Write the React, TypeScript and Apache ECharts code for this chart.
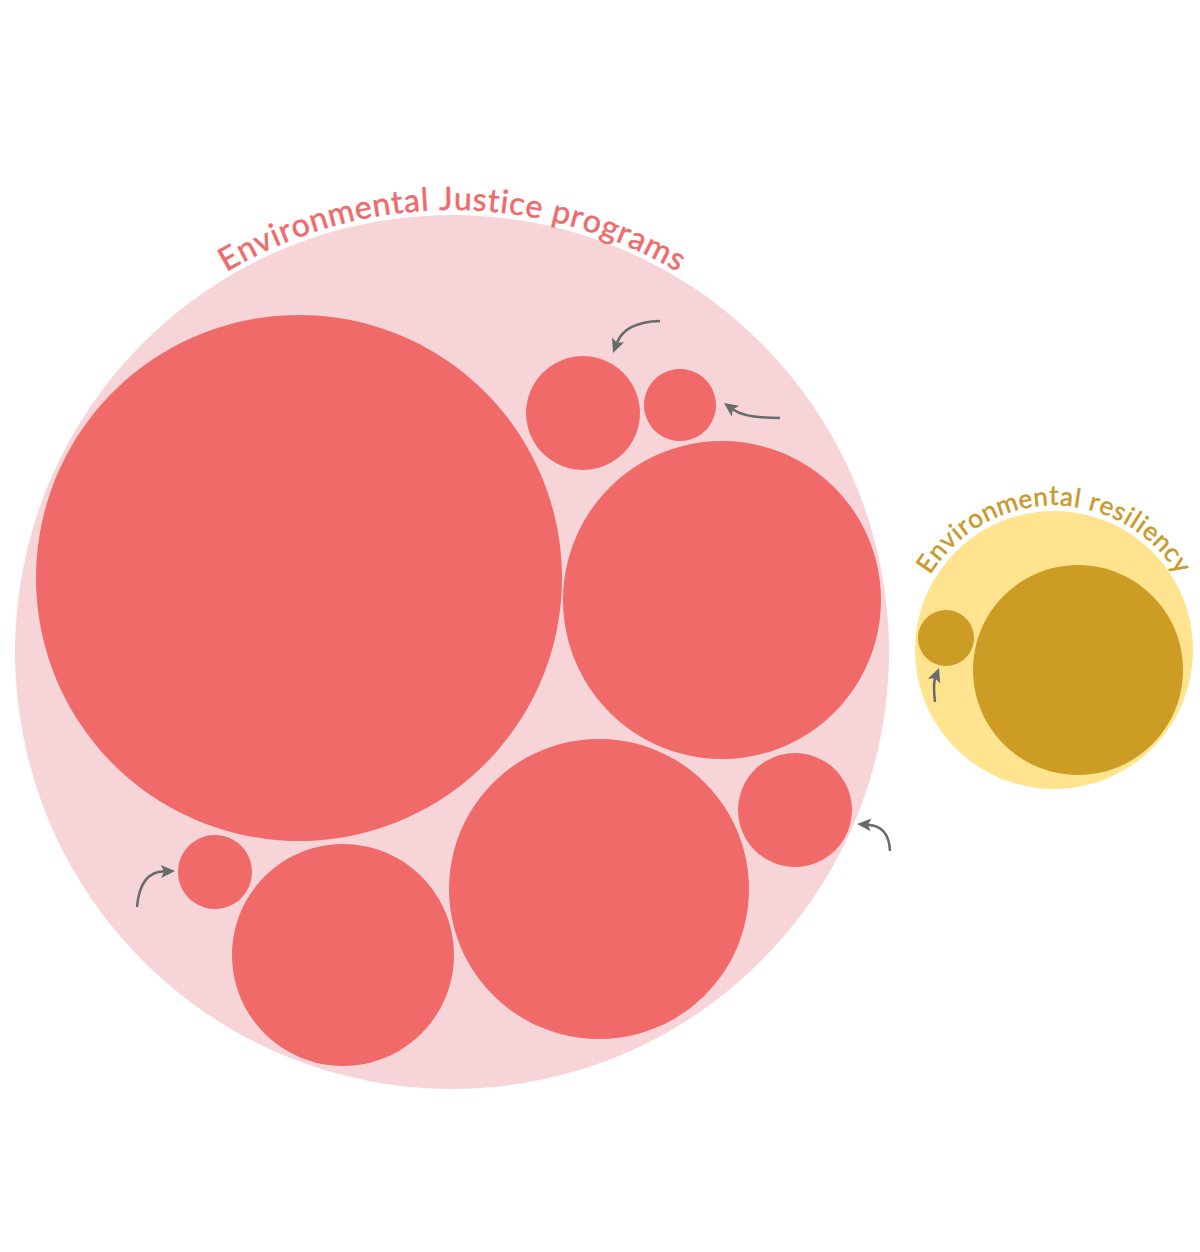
import React, { useEffect, useRef } from "react";
import * as echarts from "echarts";

// Parent groups (circle packing, chart units)
const groupNames = ["Environmental Justice programs", "Environmental resiliency"];
const groupX = [452, 1054];
const groupY = [652, 650];
const groupR = [437, 139];

// Leaf circles (chart units) and their parent group index
const leafGroup = [0, 0, 0, 0, 0, 0, 0, 0, 1, 1];
const leafX = [299, 583, 680, 722, 599, 795, 343, 215, 1078, 946];
const leafY = [578, 413, 405, 600, 889, 810, 955, 872, 670, 638];
const leafR = [263, 57, 36, 159, 150, 57, 111, 37, 105, 28];

// Annotation arrows: start, control, tip (chart units)
const arrowFromX = [660, 780, 137, 890, 935];
const arrowFromY = [321, 418, 907, 851, 702];
const arrowCtrlX = [625, 745, 140, 889, 933];
const arrowCtrlY = [322, 418, 872, 826, 684];
const arrowToX = [613, 724, 175, 857, 939];
const arrowToY = [353, 403, 871, 824, 668];

const PALETTE = {
  groupFill: ["#F6D4D8", "#FFE38E"],
  leafFill: ["#F06A6A", "#CC9C24"],
  labelColor: ["#EF6A6A", "#C99A2B"],
  labelSize: [32, 26],
  labelSpacing: [1.3, 1.6],
  labelGap: [7, 7],
  arrow: "#676B6B",
};

const FONT = "Lato, 'Open Sans', sans-serif";

let measureCtx: CanvasRenderingContext2D | null = null;
function charWidth(ch: string, fs: number): number {
  if (!measureCtx) {
    const cv = document.createElement("canvas");
    measureCtx = cv.getContext("2d");
  }
  if (!measureCtx) return fs * 0.5;
  measureCtx.font = `${fs}px ${FONT}`;
  return measureCtx.measureText(ch).width;
}

export default function App() {
  const ref = useRef<HTMLDivElement>(null);

  useEffect(() => {
    document.body.style.margin = "0";
    if (!ref.current) return;
    const chart = echarts.init(ref.current, undefined, { renderer: "svg" });

    const groupData = groupNames.map((n, i) => ({ name: n, value: [groupX[i], groupY[i], groupR[i], i] }));
    const leafData = leafX.map((x, i) => ({ value: [x, leafY[i], leafR[i], leafGroup[i]] }));
    const arrowData = arrowFromX.map((x, i) => ({
      value: [x, arrowFromY[i], arrowCtrlX[i], arrowCtrlY[i], arrowToX[i], arrowToY[i]],
    }));

    const option: any = {
      animation: false,
      grid: { left: 0, right: 0, top: 0, bottom: 0 },
      xAxis: { type: "value", min: 0, max: 1200, show: false },
      yAxis: { type: "value", min: 0, max: 1252, inverse: true, show: false },
      tooltip: { show: false },
      series: [
        {
          type: "custom",
          name: "groups",
          data: groupData,
          silent: true,
          renderItem: (params: any, api: any) => {
            const gi = api.value(3) as number;
            const c = api.coord([api.value(0), api.value(1)]);
            const r = api.size([api.value(2), 0])[0];
            const children: any[] = [
              { type: "circle", shape: { cx: c[0], cy: c[1], r }, style: { fill: PALETTE.groupFill[gi] } },
            ];
            const text = groupNames[gi];
            const fs = PALETTE.labelSize[gi];
            const sp = PALETTE.labelSpacing[gi];
            const Rmid = r + PALETTE.labelGap[gi] + fs * 0.33;
            const widths = text.split("").map((ch) => charWidth(ch, fs) + sp);
            const total = widths.reduce((a, b) => a + b, 0) - sp;
            let s = 0;
            text.split("").forEach((ch, k) => {
              const mid = s + (widths[k] - sp) / 2;
              s += widths[k];
              const theta = -Math.PI / 2 + (mid - total / 2) / Rmid;
              const px = c[0] + Rmid * Math.cos(theta);
              const py = c[1] + Rmid * Math.sin(theta);
              if (ch === " ") return;
              children.push({
                type: "text",
                x: px,
                y: py,
                rotation: -(theta + Math.PI / 2),
                style: {
                  text: ch,
                  fill: PALETTE.labelColor[gi],
                  stroke: PALETTE.labelColor[gi],
                  lineWidth: 0.5,
                  font: `${fs}px ${FONT}`,
                  align: "center",
                  verticalAlign: "middle",
                },
              });
            });
            return { type: "group", children };
          },
        },
        {
          type: "custom",
          name: "leaves",
          data: leafData,
          renderItem: (params: any, api: any) => {
            const gi = api.value(3) as number;
            const c = api.coord([api.value(0), api.value(1)]);
            const r = api.size([api.value(2), 0])[0];
            return { type: "circle", shape: { cx: c[0], cy: c[1], r }, style: { fill: PALETTE.leafFill[gi] } };
          },
        },
        {
          type: "custom",
          name: "arrows",
          data: arrowData,
          silent: true,
          renderItem: (params: any, api: any) => {
            const p0 = api.coord([api.value(0), api.value(1)]);
            const p1 = api.coord([api.value(2), api.value(3)]);
            const p2 = api.coord([api.value(4), api.value(5)]);
            const dx = p2[0] - p1[0];
            const dy = p2[1] - p1[1];
            const len = Math.sqrt(dx * dx + dy * dy) || 1;
            const ux = dx / len;
            const uy = dy / len;
            const headL = 14;
            const headW = 6.5;
            const bx = p2[0] - ux * headL;
            const by = p2[1] - uy * headL;
            const lx = p2[0] - ux * (headL - 3);
            const ly = p2[1] - uy * (headL - 3);
            return {
              type: "group",
              children: [
                {
                  type: "bezierCurve",
                  shape: { x1: p0[0], y1: p0[1], cpx1: p1[0], cpy1: p1[1], x2: lx, y2: ly },
                  style: { stroke: PALETTE.arrow, lineWidth: 2.5, fill: null },
                },
                {
                  type: "polygon",
                  shape: {
                    points: [
                      [p2[0], p2[1]],
                      [bx - uy * headW, by + ux * headW],
                      [bx + ux * 3, by + uy * 3],
                      [bx + uy * headW, by - ux * headW],
                    ],
                  },
                  style: { fill: PALETTE.arrow },
                },
              ],
            };
          },
        },
      ],
    };
    chart.setOption(option);
    return () => chart.dispose();
  }, []);

  return <div ref={ref} style={{ width: 1200, height: 1252 }} />;
}
